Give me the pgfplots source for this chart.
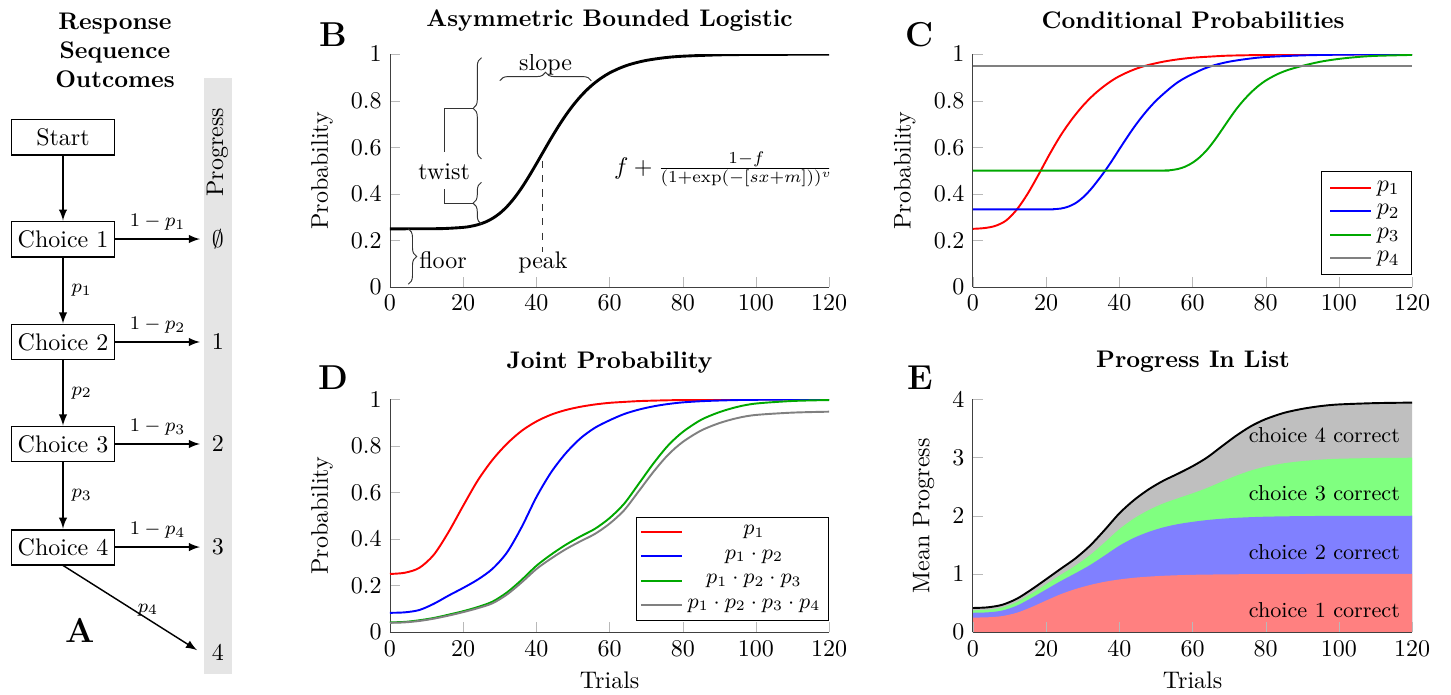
\documentclass[border=0pt]{standalone}
\usepackage{pgfplots}
\pgfplotsset{compat=1.18}
\usepackage{pgfplotstable}
\usetikzlibrary{decorations.pathreplacing,arrows.meta}
\definecolor{dgreen}{rgb}{0,0.66,0}

\pgfplotstableread{
x red blue green gray
0 0.250 0.083 0.042 0.040
4 0.255 0.085 0.044 0.042
8 0.276 0.095 0.051 0.048
12 0.333 0.122 0.061 0.058
16 0.430 0.157 0.075 0.071
20 0.543 0.190 0.090 0.086
24 0.652 0.226 0.108 0.103
28 0.740 0.272 0.131 0.124
32 0.810 0.343 0.171 0.162
36 0.865 0.452 0.225 0.214
40 0.905 0.580 0.285 0.271
44 0.934 0.686 0.333 0.316
48 0.954 0.768 0.375 0.356
52 0.968 0.832 0.411 0.390
56 0.978 0.878 0.444 0.422
60 0.985 0.910 0.490 0.466
64 0.989 0.937 0.552 0.524
68 0.9925 0.956 0.638 0.606
72 0.9945 0.970 0.725 0.689
76 0.996 0.980 0.802 0.762
80 0.997 0.987 0.860 0.817
85 0.998 0.992 0.912 0.866
90 0.999 0.995 0.945 0.898
95 0.9993 0.997 0.968 0.920
100 0.9995 0.998 0.982 0.933
110 0.9998 0.9995 0.993 0.943
120 1.000 1.000 0.997 0.947
}\Djoint

\pgfplotstableread{
x e1 e2 e3 e4
0 0.250 0.333 0.375 0.415
4 0.255 0.340 0.384 0.426
8 0.276 0.371 0.422 0.470
12 0.333 0.455 0.516 0.574
16 0.430 0.587 0.662 0.733
20 0.543 0.733 0.823 0.909
24 0.652 0.878 0.986 1.089
28 0.740 1.012 1.143 1.267
32 0.810 1.153 1.324 1.486
36 0.865 1.317 1.542 1.756
40 0.905 1.485 1.770 2.041
44 0.934 1.620 1.953 2.269
48 0.954 1.722 2.097 2.453
52 0.968 1.800 2.211 2.601
56 0.978 1.856 2.300 2.722
60 0.985 1.895 2.385 2.851
64 0.989 1.926 2.478 3.002
68 0.9925 1.9485 2.5865 3.1925
72 0.9945 1.9645 2.6895 3.3785
76 0.996 1.976 2.778 3.540
80 0.997 1.984 2.844 3.661
85 0.998 1.990 2.902 3.768
90 0.999 1.994 2.939 3.837
95 0.9993 1.9963 2.9643 3.8843
100 0.9995 1.9975 2.9795 3.9125
110 0.9998 1.9993 2.9923 3.9353
120 1.000 2.000 2.997 3.944
}\Eprog

\begin{document}
\begin{tikzpicture}[>=latex]
\useasboundingbox (0,0) rectangle (604.6pt,289.2pt);
\pgfplotsset{
  panel/.style={scale only axis, width=183pt, height=97pt,
    axis lines*=left, xmin=0, xmax=120, ymin=0,
    xtick={0,20,40,60,80,100,120},
    tick align=inside, tick style={gray!55},
    axis line style={black!75},
    every axis y label/.style={at={(axis description cs:-0.155,0.5)}, anchor=center, rotate=90},
    every axis x label/.style={at={(axis description cs:0.5,-0.208)}, anchor=center},
  },
}

% ---------------- Panel A ----------------
\fill[gray!20] (85pt,8.3pt) rectangle (96.7pt,256.5pt);
\node[rotate=90] at (90.6pt,225.8pt) {Progress};
\node[font=\bfseries, align=center] at (47.9pt,268.3pt) {Response\\Sequence\\Outcomes};
\tikzset{box/.style={draw, thick, minimum width=42.9pt, minimum height=14.6pt, inner sep=0pt}}
\node[box] (s) at (26.25pt,232.1pt) {Start};
\node[box] (c1) at (26.25pt,189.6pt) {Choice 1};
\node[box] (c2) at (26.25pt,146.7pt) {Choice 2};
\node[box] (c3) at (26.25pt,104.2pt) {Choice 3};
\node[box] (c4) at (26.25pt,61.25pt) {Choice 4};
\draw[->, semithick] (s) -- (c1);
\draw[->, semithick] (c1) -- node[right, font=\footnotesize] {$p_1$} (c2);
\draw[->, semithick] (c2) -- node[right, font=\footnotesize] {$p_2$} (c3);
\draw[->, semithick] (c3) -- node[right, font=\footnotesize] {$p_3$} (c4);
\draw[->, semithick] (c1.east) -- node[above, font=\footnotesize] {$1-p_1$} (83.3pt,189.6pt);
\draw[->, semithick] (c2.east) -- node[above, font=\footnotesize] {$1-p_2$} (83.3pt,146.7pt);
\draw[->, semithick] (c3.east) -- node[above, font=\footnotesize] {$1-p_3$} (83.3pt,104.2pt);
\draw[->, semithick] (c4.east) -- node[above, font=\footnotesize] {$1-p_4$} (83.3pt,61.25pt);
\draw[->, semithick] (26.25pt,53.6pt) -- (82.1pt,18.3pt);
\node[font=\footnotesize] at (61.7pt,35pt) {$p_4$};
\node at (90.8pt,189.6pt) {$\emptyset$};
\node at (90.8pt,146.7pt) {1};
\node at (90.8pt,104.2pt) {2};
\node at (90.8pt,61.25pt) {3};
\node at (90.8pt,17.5pt) {4};
\node[font=\Large\bfseries] at (33.3pt,26.7pt) {A};

% ---------------- Titles and letters ----------------
\node[font=\Large\bfseries] at (138.75pt,274.6pt) {B};
\node[font=\Large\bfseries] at (383.3pt,274.6pt) {C};
\node[font=\Large\bfseries] at (138.75pt,131.7pt) {D};
\node[font=\Large\bfseries] at (383.3pt,131.7pt) {E};
\node[font=\bfseries] at (254pt,280.8pt) {Asymmetric Bounded Logistic};
\node[font=\bfseries] at (497.1pt,280.8pt) {Conditional Probabilities};
\node[font=\bfseries] at (254pt,138.3pt) {Joint Probability};
\node[font=\bfseries] at (497.1pt,138.3pt) {Progress In List};

% ---------------- Panel B ----------------
\begin{axis}[panel, at={(162.5pt,169.6pt)}, anchor=south west,
  ymax=1, ytick={0,0.2,0.4,0.6,0.8,1}, ylabel={Probability}]
\addplot[black, very thick, smooth] coordinates {
(0,0.2500) (10,0.2503) (15,0.2514) (20,0.2562) (22,0.2606) (24,0.2678)
(26,0.2786) (28,0.2946) (30,0.3167) (32,0.3461) (34,0.3829) (36,0.4266)
(38,0.4762) (40,0.5294) (42,0.5841) (44,0.6383) (46,0.6898) (48,0.7374)
(50,0.7801) (52,0.8177) (54,0.8502) (56,0.8776) (58,0.9005) (60,0.9197)
(63,0.9418) (66,0.9583) (70,0.9734) (75,0.9850) (80,0.9915) (90,0.9973)
(100,0.9992) (110,0.9997) (120,0.9999)};
\draw[decorate, decoration={brace, amplitude=3.5pt}, black!80] (axis cs:5,0.25) -- (axis cs:5,0.012);
\node at (axis cs:14.5,0.117) {floor};
\draw[decorate, decoration={brace, amplitude=3.5pt}, black!80] (axis cs:25,0.55) -- (axis cs:25,0.985);
\draw[decorate, decoration={brace, amplitude=3.5pt}, black!80] (axis cs:25,0.27) -- (axis cs:25,0.45);
\draw[black!80] (axis cs:22.7,0.768) -- (axis cs:14.8,0.768) -- (axis cs:14.8,0.579);
\draw[black!80] (axis cs:22.7,0.36) -- (axis cs:14.8,0.36) -- (axis cs:14.8,0.421);
\node at (axis cs:14.8,0.496) {twist};
\draw[decorate, decoration={brace, amplitude=3.5pt}, black!80] (axis cs:30,0.886) -- (axis cs:55,0.886);
\node at (axis cs:42.5,0.957) {slope};
\draw[dashed, black!80] (axis cs:41.8,0.543) -- (axis cs:41.8,0.15);
\node at (axis cs:41.8,0.107) {peak};
\node at (axis cs:91.4,0.506) {$f+\frac{1-f}{(1+\exp(-[sx+m]))^v}$};
\end{axis}

% ---------------- Panel C ----------------
\begin{axis}[panel, at={(405.4pt,169.6pt)}, anchor=south west,
  ymax=1, ytick={0,0.2,0.4,0.6,0.8,1}, ylabel={Probability},
  legend style={at={(1,0.05)}, anchor=south east, draw=black, fill=white},
  legend cell align=left]
\addplot[red, thick, smooth] coordinates {
(0,0.250) (3,0.253) (6,0.262) (9,0.285) (12,0.333) (15,0.402) (18,0.485)
(21,0.572) (24,0.652) (27,0.720) (30,0.778) (33,0.826) (36,0.865) (39,0.897)
(42,0.921) (45,0.940) (48,0.954) (52,0.968) (56,0.978) (60,0.985) (65,0.990)
(70,0.994) (80,0.997) (90,0.999) (100,0.9995) (120,1.000)};
\addlegendentry{$p_1$}
\addplot[blue, thick, smooth] coordinates {
(0,0.3333) (20,0.3334) (22,0.3345) (24,0.337) (26,0.345) (28,0.360) (30,0.384)
(32,0.416) (34,0.455) (36,0.497) (38,0.543) (40,0.592) (42,0.640) (44,0.686)
(46,0.728) (48,0.766) (50,0.800) (52,0.829) (54,0.856) (56,0.880) (58,0.899)
(60,0.915) (63,0.937) (66,0.953) (70,0.968) (75,0.980) (80,0.988) (90,0.995)
(100,0.998) (110,0.9993) (120,0.9998)};
\addlegendentry{$p_2$}
\addplot[dgreen, thick, smooth] coordinates {
(0,0.5) (50,0.5) (52,0.5005) (54,0.502) (56,0.507) (58,0.517) (60,0.534)
(62,0.558) (64,0.590) (66,0.630) (68,0.675) (70,0.721) (72,0.765) (74,0.803)
(76,0.836) (78,0.864) (80,0.887) (83,0.913) (86,0.932) (90,0.950) (95,0.968)
(100,0.980) (105,0.988) (110,0.993) (120,0.997)};
\addlegendentry{$p_3$}
\addplot[gray, thick] coordinates {(0,0.95) (120,0.95)};
\addlegendentry{$p_4$}
\end{axis}

% ---------------- Panel D ----------------
\begin{axis}[panel, at={(162.5pt,25.8pt)}, anchor=south west,
  ymax=1, ytick={0,0.2,0.4,0.6,0.8,1}, ylabel={Probability}, xlabel={Trials},
  legend style={at={(1,0.05)}, anchor=south east, draw=black, fill=white, font=\small, row sep=0.6pt, inner sep=1.5pt},
  legend cell align=center]
\addplot[red, thick, smooth] table[x=x, y=red] {\Djoint};
\addlegendentry{$p_1$}
\addplot[blue, thick, smooth] table[x=x, y=blue] {\Djoint};
\addlegendentry{$p_1\cdot p_2$}
\addplot[dgreen, thick, smooth] table[x=x, y=green] {\Djoint};
\addlegendentry{$p_1\cdot p_2\cdot p_3$}
\addplot[gray, thick, smooth] table[x=x, y=gray] {\Djoint};
\addlegendentry{$p_1\cdot p_2\cdot p_3\cdot p_4$}
\end{axis}

% ---------------- Panel E ----------------
\begin{axis}[panel, at={(405.4pt,25.8pt)}, anchor=south west,
  ymax=4, ytick={0,1,2,3,4}, ylabel={Mean Progress}, xlabel={Trials},
  every axis y label/.style={at={(axis description cs:-0.1125,0.5)}, anchor=center, rotate=90},
  axis on top]
\addplot[fill=gray!50, draw=none, smooth] table[x=x, y=e4] {\Eprog} \closedcycle;
\addplot[fill=green!50, draw=none, smooth] table[x=x, y=e3] {\Eprog} \closedcycle;
\addplot[fill=blue!50, draw=none, smooth] table[x=x, y=e2] {\Eprog} \closedcycle;
\addplot[fill=red!50, draw=none, smooth] table[x=x, y=e1] {\Eprog} \closedcycle;
\addplot[black, thick, smooth] table[x=x, y=e4] {\Eprog};
\node[anchor=east, font=\small] at (axis cs:119,3.38) {choice 4 correct};
\node[anchor=east, font=\small] at (axis cs:119,2.38) {choice 3 correct};
\node[anchor=east, font=\small] at (axis cs:119,1.38) {choice 2 correct};
\node[anchor=east, font=\small] at (axis cs:119,0.38) {choice 1 correct};
\end{axis}
\end{tikzpicture}
\end{document}
